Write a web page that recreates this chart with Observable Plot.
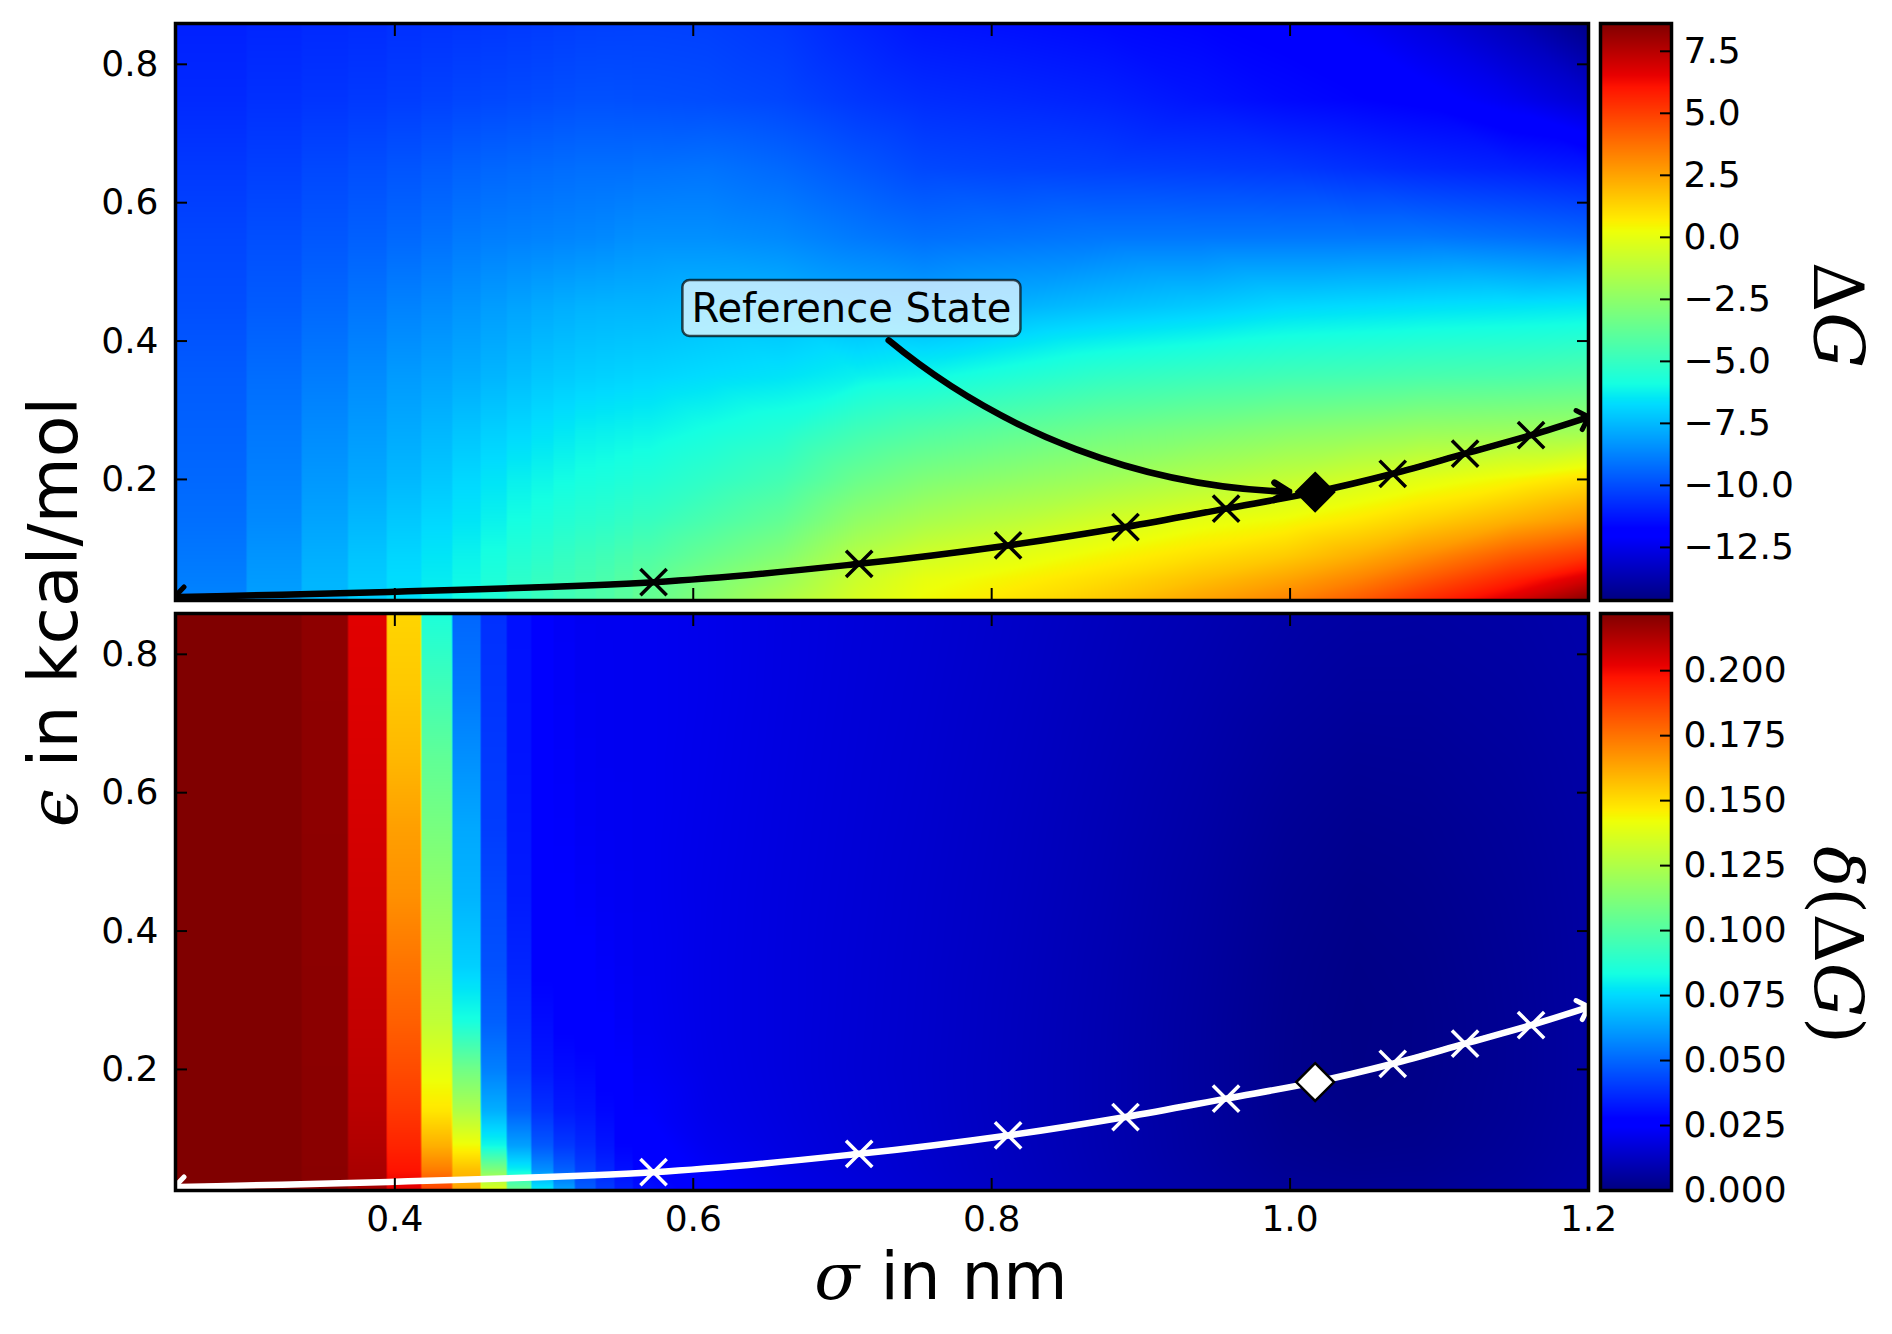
<!DOCTYPE html>
<html>
<head>
<meta charset="utf-8">
<script src="https://cdn.jsdelivr.net/npm/d3@7"></script>
<script src="https://cdn.jsdelivr.net/npm/@observablehq/plot@0.6"></script>
<style>
html, body { margin: 0; padding: 0; background: #fff; }
#fig { position: relative; width: 1892px; height: 1334px; background: #fff; overflow: hidden; font-family: "DejaVu Sans"; }
.panel { position: absolute; }
.lbl { position: absolute; white-space: nowrap; line-height: 1; color: #000; }
.mi { font-family: "DejaVu Serif"; font-style: italic; }
.mu { font-family: "DejaVu Serif"; font-style: normal; }
</style>
</head>
<body>
<div id="fig"></div>
<script>
// ---------------- data ----------------
const sigmaDomain = [0.253, 1.2];
const epsDomain = [0.025, 0.859];
const xTicks = [0.4, 0.6, 0.8, 1.0, 1.2];
const yTicks = [0.2, 0.4, 0.6, 0.8];
const dGTicks = [-12.5, -10, -7.5, -5, -2.5, 0, 2.5, 5, 7.5];
const ddGTicks = [0, 0.025, 0.05, 0.075, 0.1, 0.125, 0.15, 0.175, 0.2];
const dGDomain = [-14.64, 8.62];
const ddGDomain = [0, 0.222];

// sigma grid: visible step columns (edges) then smoothly sampled columns
const sigmaBandEdges = [0.253, 0.3006, 0.3375, 0.3686, 0.3945, 0.4177, 0.4385, 0.4575, 0.475, 0.4915, 0.5063, 0.5207, 0.5346, 0.5472, 0.5596, 0.5715];
const sigmaSmooth = [0.61, 0.66, 0.71, 0.755, 0.815, 0.876, 0.94, 0.997, 1.045, 1.088, 1.149, 1.2];
const epsRows = [0.859, 0.75, 0.65, 0.55, 0.45, 0.35, 0.27, 0.2, 0.14, 0.09, 0.055, 0.025];

// ΔG, one array per column (top -> bottom rows)
const dGBands = [
  [-11.0, -10.8, -10.45, -10.15, -9.95, -9.65, -9.5, -9.36, -9.2, -9.0, -8.85, -8.7],
  [-10.9, -10.65, -10.3, -9.95, -9.65, -9.25, -9.0, -8.81, -8.6, -8.35, -8.2, -8.08],
  [-10.8, -10.55, -10.1, -9.75, -9.35, -8.9, -8.55, -8.26, -8.0, -7.75, -7.6, -7.53],
  [-10.75, -10.45, -9.95, -9.55, -9.05, -8.55, -8.2, -7.9, -7.55, -7.25, -7.1, -6.98],
  [-10.65, -10.35, -9.8, -9.35, -8.75, -8.2, -7.85, -7.53, -7.15, -6.85, -6.7, -6.62],
  [-10.6, -10.25, -9.65, -9.15, -8.55, -8.0, -7.55, -7.17, -6.8, -6.5, -6.35, -6.26],
  [-10.55, -10.15, -9.5, -8.95, -8.35, -7.8, -7.25, -6.8, -6.5, -6.2, -6.05, -5.95],
  [-10.5, -10.1, -9.4, -8.85, -8.15, -7.6, -7.0, -6.53, -6.2, -5.85, -5.65, -5.6],
  [-10.45, -10.05, -9.35, -8.8, -8.0, -7.4, -6.8, -6.26, -5.9, -5.5, -5.25, -5.14],
  [-10.4, -10.0, -9.3, -8.75, -7.85, -7.2, -6.6, -6.1, -5.7, -5.3, -5.0, -4.91],
  [-10.35, -9.95, -9.25, -8.7, -7.75, -7.1, -6.45, -5.95, -5.5, -5.05, -4.8, -4.69],
  [-10.3, -9.9, -9.2, -8.65, -7.65, -7.0, -6.3, -5.82, -5.35, -4.85, -4.6, -4.47],
  [-10.28, -9.9, -9.2, -8.6, -7.62, -6.95, -6.25, -5.75, -5.25, -4.7, -4.4, -4.25],
  [-10.27, -9.92, -9.2, -8.5, -7.6, -6.9, -6.2, -5.65, -5.1, -4.5, -4.15, -3.95],
  [-10.26, -9.95, -9.15, -8.45, -7.6, -6.85, -6.15, -5.55, -4.95, -4.3, -3.9, -3.65]
];
const dGSmooth = [
  [-10.3, -10.0, -9.1, -8.45, -7.45, -6.7, -5.85, -5.15, -4.4, -3.6, -3.0, -2.7],
  [-10.5, -10.15, -9.35, -8.6, -7.5, -6.55, -5.5, -4.6, -3.7, -2.8, -2.1, -1.6],
  [-10.95, -10.5, -9.75, -8.95, -7.75, -6.25, -4.7, -3.5, -2.4, -1.4, -0.75, -0.4],
  [-11.28, -10.73, -10.09, -9.18, -7.9, -6.05, -4.24, -2.9, -1.74, -0.62, 0.06, 0.35],
  [-11.4, -10.85, -10.2, -9.1, -7.65, -5.6, -3.8, -2.45, -1.2, -0.1, 0.55, 0.95],
  [-11.55, -11.0, -10.27, -9.0, -7.35, -5.14, -3.33, -1.98, -0.55, 0.45, 1.1, 1.6],
  [-11.7, -11.3, -10.35, -9.0, -7.1, -4.9, -3.0, -1.45, 0.0, 1.0, 1.8, 2.5],
  [-11.85, -11.55, -10.45, -9.0, -6.8, -4.69, -2.66, -1.0, 0.35, 1.5, 2.5, 3.3],
  [-12.25, -11.7, -10.65, -9.0, -6.7, -4.6, -2.45, -0.55, 0.85, 2.2, 3.3, 4.3],
  [-12.7, -11.85, -10.82, -9.0, -6.62, -4.47, -2.2, -0.1, 1.4, 3.0, 4.3, 5.4],
  [-13.51, -12.38, -11.0, -9.18, -6.53, -4.4, -2.1, 0.45, 2.2, 4.3, 5.7, 6.9],
  [-14.49, -13.0, -11.2, -9.36, -6.44, -4.24, -1.98, 1.05, 2.9, 5.1, 7.0, 8.5]
];

// δ(ΔG), one array per column (top -> bottom rows)
const ddGBands = [
  [0.222, 0.222, 0.222, 0.222, 0.222, 0.222, 0.222, 0.222, 0.222, 0.222, 0.222, 0.222],
  [0.222, 0.222, 0.222, 0.222, 0.222, 0.222, 0.222, 0.222, 0.222, 0.222, 0.222, 0.222],
  [0.2192, 0.2193, 0.2194, 0.2195, 0.2196, 0.2197, 0.2198, 0.2199, 0.22, 0.22, 0.2201, 0.2202],
  [0.2033, 0.204, 0.2048, 0.2057, 0.2066, 0.2078, 0.2088, 0.2098, 0.211, 0.2125, 0.214, 0.2155],
  [0.152, 0.155, 0.1589, 0.1645, 0.1682, 0.1748, 0.1795, 0.1843, 0.1889, 0.1936, 0.1974, 0.2036],
  [0.0853, 0.0949, 0.1036, 0.11, 0.1166, 0.1231, 0.1295, 0.1397, 0.1478, 0.1607, 0.1727, 0.187],
  [0.050, 0.0538, 0.0591, 0.0643, 0.0669, 0.073, 0.084, 0.108, 0.125, 0.143, 0.157, 0.1645],
  [0.0382, 0.039, 0.04, 0.0408, 0.0434, 0.0452, 0.0486, 0.0556, 0.066, 0.082, 0.112, 0.14],
  [0.0312, 0.0315, 0.0318, 0.0326, 0.0333, 0.0355, 0.0382, 0.0416, 0.0486, 0.0626, 0.08, 0.108],
  [0.026, 0.026, 0.026, 0.0262, 0.0265, 0.027, 0.03, 0.0326, 0.0382, 0.047, 0.059, 0.08],
  [0.0231, 0.0233, 0.0236, 0.024, 0.0245, 0.026, 0.027, 0.030, 0.0333, 0.04, 0.0486, 0.064],
  [0.022, 0.0222, 0.0225, 0.0228, 0.0235, 0.025, 0.026, 0.029, 0.032, 0.0365, 0.0416, 0.0486],
  [0.0218, 0.0219, 0.022, 0.0222, 0.0226, 0.0235, 0.0245, 0.0265, 0.029, 0.032, 0.036, 0.041],
  [0.0217, 0.0217, 0.0218, 0.0219, 0.0221, 0.0226, 0.0232, 0.0245, 0.026, 0.028, 0.031, 0.035],
  [0.0216, 0.0216, 0.0216, 0.0216, 0.0216, 0.0218, 0.022, 0.0228, 0.024, 0.026, 0.028, 0.031]
];
const ddGSmooth = [
  [0.0205, 0.0205, 0.0203, 0.0201, 0.0199, 0.0198, 0.0198, 0.02, 0.0205, 0.0215, 0.023, 0.025],
  [0.0188, 0.0187, 0.0185, 0.0183, 0.0181, 0.018, 0.018, 0.018, 0.0183, 0.0188, 0.0195, 0.0205],
  [0.0172, 0.017, 0.0168, 0.0166, 0.0164, 0.0162, 0.0161, 0.016, 0.0162, 0.0165, 0.017, 0.0178],
  [0.016, 0.0157, 0.0154, 0.0151, 0.0148, 0.0146, 0.0145, 0.0144, 0.0145, 0.0147, 0.015, 0.0155],
  [0.014, 0.0136, 0.0132, 0.0128, 0.0125, 0.0122, 0.012, 0.0119, 0.0119, 0.012, 0.0122, 0.0126],
  [0.0118, 0.0113, 0.0108, 0.0103, 0.0099, 0.0095, 0.0093, 0.0092, 0.0092, 0.0093, 0.0095, 0.0099],
  [0.0098, 0.009, 0.0082, 0.0075, 0.0068, 0.0063, 0.006, 0.0059, 0.006, 0.0062, 0.0066, 0.0072],
  [0.0078, 0.0068, 0.0056, 0.0045, 0.0036, 0.003, 0.0027, 0.0026, 0.0028, 0.0033, 0.004, 0.0048],
  [0.0068, 0.0056, 0.0043, 0.0031, 0.0021, 0.0015, 0.0012, 0.0013, 0.0017, 0.0024, 0.0032, 0.0042],
  [0.0066, 0.0056, 0.0045, 0.0035, 0.0027, 0.0021, 0.0018, 0.0018, 0.0021, 0.0027, 0.0034, 0.0042],
  [0.0072, 0.0065, 0.0058, 0.0051, 0.0046, 0.0042, 0.004, 0.004, 0.0042, 0.0046, 0.005, 0.0055],
  [0.0082, 0.0078, 0.0074, 0.007, 0.0067, 0.0065, 0.0064, 0.0064, 0.0065, 0.0067, 0.007, 0.0073]
];

// path through parameter space (start, crosses, reference, end)
const pathSigma = [0.2555, 0.5734, 0.7112, 0.811, 0.8897, 0.9571, 1.0168, 1.0688, 1.1173, 1.1615, 1.1969];
const pathEps   = [0.030, 0.0515, 0.078, 0.1046, 0.1312, 0.1578, 0.1817, 0.2082, 0.2374, 0.264, 0.288];
const crossSigma = [0.5734, 0.7112, 0.811, 0.8897, 0.9571, 1.0688, 1.1173, 1.1615];
const crossEps   = [0.0515, 0.078, 0.1046, 0.1312, 0.1578, 0.2082, 0.2374, 0.264];
const refSigma = [1.0168];
const refEps = [0.1817];
const annoText = ["Reference State"];
const annoSigma = [0.706];
const annoEps = [0.446];
const arrowStartSigma = [0.731];
const arrowStartEps = [0.401];

// ---------------- helpers ----------------
const jetR = [[0, 0], [0.35, 0], [0.66, 1], [0.89, 1], [1, 0.5]];
const jetG = [[0, 0], [0.125, 0], [0.375, 1], [0.64, 1], [0.91, 0], [1, 0]];
const jetB = [[0, 0.5], [0.11, 1], [0.34, 1], [0.65, 0], [1, 0]];
function seg(pts, t) {
  for (let i = 1; i < pts.length; i++) {
    if (t <= pts[i][0]) {
      const [t0, v0] = pts[i - 1], [t1, v1] = pts[i];
      return v0 + (v1 - v0) * (t - t0) / (t1 - t0);
    }
  }
  return pts[pts.length - 1][1];
}
function jet(t) {
  t = Math.max(0, Math.min(1, t));
  return `rgb(${Math.round(255 * seg(jetR, t))},${Math.round(255 * seg(jetG, t))},${Math.round(255 * seg(jetB, t))})`;
}

const GAP = 0.0004;
function buildSamples(bands, smooth) {
  const out = [];
  for (let c = 0; c < sigmaBandEdges.length - 1; c++) {
    const a = sigmaBandEdges[c], b = sigmaBandEdges[c + 1];
    for (const s of [c === 0 ? a : a + GAP, b - GAP]) {
      epsRows.forEach((e, r) => out.push({s, e, v: bands[c][r]}));
    }
  }
  sigmaSmooth.forEach((s, c) => epsRows.forEach((e, r) => out.push({s, e, v: smooth[c][r]})));
  return out;
}
const pathData = pathSigma.map((s, i) => ({s, e: pathEps[i]}));
const crossData = crossSigma.map((s, i) => ({s, e: crossEps[i]}));
const refData = refSigma.map((s, i) => ({s, e: refEps[i]}));
const annoData = annoText.map((t, i) => ({t, s: annoSigma[i], e: annoEps[i]}));
const arrowData = arrowStartSigma.map((s, i) => ({s1: s, e1: arrowStartEps[i], s2: refSigma[i], e2: refEps[i]}));

const baseStyle = {background: "transparent", fontFamily: "DejaVu Sans", fontSize: "36px", overflow: "visible"};

function panelAxes(showX) {
  return [
    Plot.axisX(xTicks, {anchor: "bottom", tickSize: -12, tickFormat: () => "", strokeWidth: 2, label: null}),
    Plot.axisX(xTicks, {anchor: "top", tickSize: -12, tickFormat: () => "", strokeWidth: 2, label: null}),
    Plot.axisY(yTicks, {anchor: "left", tickSize: -12, tickFormat: () => "", strokeWidth: 2, label: null}),
    Plot.axisY(yTicks, {anchor: "right", tickSize: -12, tickFormat: () => "", strokeWidth: 2, label: null}),
    Plot.axisY(yTicks, {anchor: "left", tickSize: 0, tickPadding: 17, tickFormat: d => d.toFixed(1), fontSize: 36, label: null}),
    showX ? Plot.axisX(xTicks, {anchor: "bottom", tickSize: 0, tickPadding: 15, tickFormat: d => d.toFixed(1), fontSize: 36, label: null}) : null,
    Plot.frame({stroke: "black", strokeWidth: 3.5})
  ];
}

function pathMarks(color, refFill, refStroke) {
  return [
    Plot.line(pathData, {x: "s", y: "e", curve: "catmull-rom", stroke: color, strokeWidth: 6.5, clip: true}),
    Plot.line(pathData, {x: "s", y: "e", curve: "catmull-rom", stroke: color, strokeWidth: 5, markerStart: "arrow-reverse", markerEnd: "arrow", clip: true}),
    Plot.dot(crossData, {x: "s", y: "e", symbol: "times", r: 12, stroke: color, strokeWidth: 3.5}),
    Plot.dot(refData, {x: "s", y: "e", symbol: "diamond2", r: 17, fill: refFill, stroke: refStroke, strokeWidth: 2.5})
  ];
}

// ---------------- top panel: ΔG ----------------
const topPlot = Plot.plot({
  width: 1600, height: 612,
  marginLeft: 175, marginRight: 12, marginTop: 23, marginBottom: 12,
  x: {domain: sigmaDomain},
  y: {domain: epsDomain},
  color: {type: "linear", domain: dGDomain, interpolate: jet, clamp: true},
  style: baseStyle,
  marks: [
    Plot.raster(buildSamples(dGBands, dGSmooth), {x: "s", y: "e", fill: "v", interpolate: "barycentric",
      x1: sigmaDomain[0], x2: sigmaDomain[1], y1: epsDomain[0], y2: epsDomain[1]}),
    Plot.arrow(arrowData, {x1: "s1", y1: "e1", x2: "s2", y2: "e2", bend: -20, stroke: "black", strokeWidth: 6.5, headLength: 4, insetEnd: 26}),
    ...pathMarks("black", "black", "black"),
    Plot.text(annoData, {x: "s", y: "e", text: "t", fontSize: 40, fill: "black"}),
    ...panelAxes(false)
  ]
});

// ---------------- bottom panel: δ(ΔG) ----------------
const botPlot = Plot.plot({
  width: 1600, height: 734,
  marginLeft: 175, marginRight: 12, marginTop: 13, marginBottom: 144,
  x: {domain: sigmaDomain},
  y: {domain: epsDomain},
  color: {type: "linear", domain: ddGDomain, interpolate: jet, clamp: true},
  style: baseStyle,
  marks: [
    Plot.raster(buildSamples(ddGBands, ddGSmooth), {x: "s", y: "e", fill: "v", interpolate: "barycentric",
      x1: sigmaDomain[0], x2: sigmaDomain[1], y1: epsDomain[0], y2: epsDomain[1]}),
    ...pathMarks("white", "white", "black"),
    ...panelAxes(true)
  ]
});

// ---------------- colorbars ----------------
function colorbar(domain, ticks, fmt, height, mt, mb) {
  return Plot.plot({
    width: 302, height,
    marginLeft: 10, marginRight: 221, marginTop: mt, marginBottom: mb,
    x: {domain: [0, 1], axis: null},
    y: {domain},
    color: {type: "linear", domain, interpolate: jet, clamp: true},
    style: baseStyle,
    marks: [
      Plot.raster({fill: (x, y) => y, x1: 0, x2: 1, y1: domain[0], y2: domain[1]}),
      Plot.axisY(ticks, {anchor: "right", tickSize: -12, tickFormat: () => "", strokeWidth: 2, label: null}),
      Plot.axisY(ticks, {anchor: "right", tickSize: 0, tickPadding: 12, tickFormat: fmt, fontSize: 36, label: null}),
      Plot.frame({stroke: "black", strokeWidth: 3.5})
    ]
  });
}
const cbTop = colorbar(dGDomain, dGTicks, d3.format(".1f"), 612, 23, 12);
const cbBot = colorbar(ddGDomain, ddGTicks, d3.format(".3f"), 734, 13, 144);

// ---------------- assemble ----------------
const fig = document.getElementById("fig");
function place(node, left, top) {
  const d = document.createElement("div");
  d.className = "panel";
  d.style.left = left + "px";
  d.style.top = top + "px";
  d.appendChild(node);
  fig.appendChild(d);
}
place(topPlot, 0, 0);
place(botPlot, 0, 600);
place(cbTop, 1590, 0);
place(cbBot, 1590, 600);

// rounded label box behind the annotation text
topPlot.querySelectorAll("text").forEach(t => {
  if (t.textContent === "Reference State") {
    const bb = t.getBBox();
    const r = document.createElementNS("http://www.w3.org/2000/svg", "rect");
    r.setAttribute("x", bb.x - 9);
    r.setAttribute("y", bb.y - 5);
    r.setAttribute("width", bb.width + 18);
    r.setAttribute("height", bb.height + 10);
    r.setAttribute("rx", 7);
    r.setAttribute("fill", "white");
    r.setAttribute("fill-opacity", 0.7);
    r.setAttribute("stroke", "black");
    r.setAttribute("stroke-opacity", 0.7);
    r.setAttribute("stroke-width", 2.5);
    if (t.getAttribute("transform")) r.setAttribute("transform", t.getAttribute("transform"));
    t.parentNode.insertBefore(r, t);
  }
});

function label(html, cx, cy, rot, size) {
  const d = document.createElement("div");
  d.className = "lbl";
  d.innerHTML = html;
  d.style.fontSize = size + "px";
  d.style.left = cx + "px";
  d.style.top = cy + "px";
  d.style.transform = `translate(-50%, -50%) rotate(${rot}deg)`;
  fig.appendChild(d);
}
label('<span class="mi">ϵ</span> in kcal/mol', 54, 612, -90, 68);
label('<span class="mi">σ</span> in nm', 941, 1277, 0, 66);
label('<span class="mu">Δ</span><span class="mi">G</span>', 1838, 315, 90, 70);
label('<span class="mi">δ</span><span class="mu">(Δ</span><span class="mi">G</span><span class="mu">)</span>', 1838, 945, 90, 68);
</script>
</body>
</html>
